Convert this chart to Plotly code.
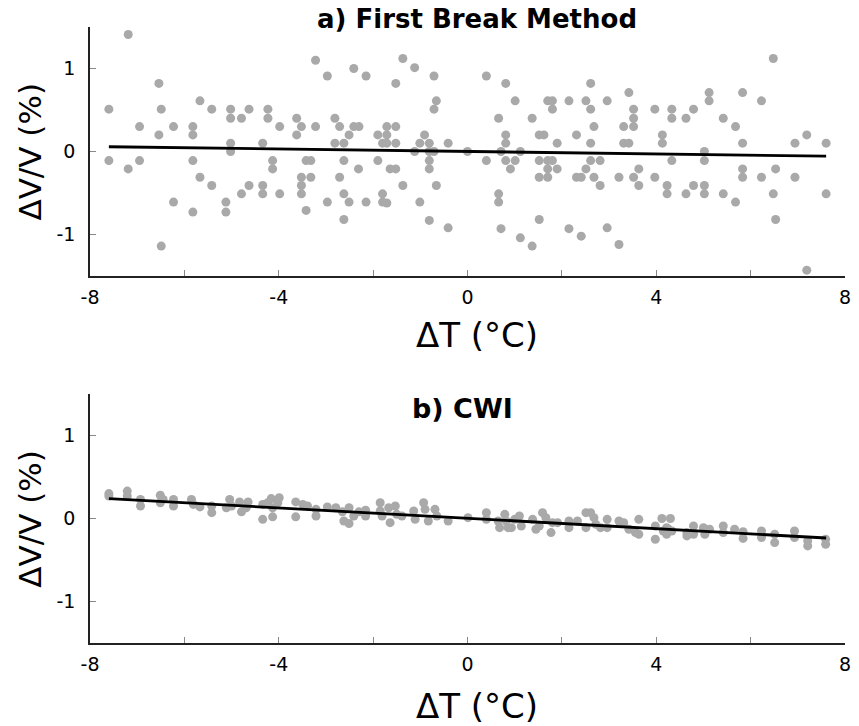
import plotly.graph_objects as go
from plotly.subplots import make_subplots

# ---------- panel a) First Break Method ----------
fb_dT = [-7.60, -7.60, -7.19, -7.19, -6.95, -6.95, -6.54, -6.49, -6.54, -6.49,
         -6.23, -6.23, -5.82, -5.82, -5.82, -5.82, -5.67, -5.67, -5.42, -5.42,
         -5.12, -5.12, -5.02, -5.02, -5.02, -5.02, -4.79, -4.79, -4.63, -4.63,
         -4.34, -4.34, -4.34, -4.23, -4.23, -4.13, -4.13, -3.98, -3.98, -3.62,
         -3.62, -3.52, -3.52, -3.52, -3.52, -3.42, -3.42, -3.32, -3.32, -3.22,
         -3.22, -2.97, -2.97, -2.81, -2.81, -2.71, -2.71, -2.62, -2.62, -2.62,
         -2.62, -2.51, -2.51, -2.41, -2.30, -2.41, -2.15, -2.31, -2.15, -1.90,
         -1.90, -1.80, -1.80, -1.80, -1.71, -1.71, -1.71, -1.71, -1.64, -1.52,
         -1.52, -1.52, -1.52, -1.37, -1.37, -1.12, -1.12, -1.01, -1.01, -0.91,
         -0.81, -0.81, -0.81, -0.81, -0.81, -0.71, -0.71, -0.66, -0.71, -0.66,
         -0.41, -0.41, 0.00, 0.40, 0.40, 0.66, 0.66, 0.66, 0.71, 0.71,
         0.81, 0.81, 0.81, 0.81, 0.91, 1.01, 1.01, 1.12, 1.12, 1.37,
         1.37, 1.52, 1.62, 1.52, 1.52, 1.52, 1.70, 1.80, 1.80, 1.70,
         1.80, 1.70, 1.70, 1.90, 1.90, 2.15, 2.15, 2.31, 2.31, 2.41,
         2.41, 2.51, 2.51, 2.61, 2.61, 2.61, 2.61, 2.68, 2.68, 2.81,
         2.81, 2.96, 2.96, 3.21, 3.21, 3.31, 3.31, 3.42, 3.42, 3.52,
         3.52, 3.52, 3.52, 3.63, 3.63, 3.97, 3.97, 4.13, 4.13, 4.23,
         4.23, 4.33, 4.33, 4.33, 4.63, 4.63, 4.79, 4.79, 5.02, 5.02,
         5.02, 5.02, 5.12, 5.12, 5.42, 5.42, 5.68, 5.68, 5.83, 5.83,
         5.83, 5.83, 6.23, 6.23, 6.48, 6.48, 6.53, 6.53, 6.94, 6.94,
         7.19, 7.19, 7.60, 7.60]
fb_dVV = [0.51, -0.11, 1.41, -0.21, 0.30, -0.11, 0.82, 0.51, 0.20, -1.14,
          0.30, -0.61, 0.30, 0.20, -0.11, -0.73, 0.61, -0.31, 0.51, -0.41,
          -0.61, -0.73, 0.51, 0.40, 0.10, 0.00, 0.40, -0.51, 0.51, -0.41,
          0.10, -0.41, -0.51, 0.51, 0.40, -0.11, -0.21, 0.30, -0.51, 0.40,
          0.20, 0.30, -0.31, -0.41, -0.51, -0.11, -0.71, -0.11, -0.31, 1.10,
          0.30, 0.91, -0.61, 0.40, 0.10, 0.30, -0.31, 0.10, -0.11, -0.51,
          -0.82, 0.20, -0.61, 0.30, 0.30, 1.00, 0.91, -0.21, -0.61, 0.20,
          -0.11, 0.10, -0.51, -0.61, 0.30, 0.20, 0.10, -0.62, -0.21, -0.21,
          0.82, 0.30, 0.10, 1.12, -0.41, 1.01, 0.00, 0.10, -0.61, 0.20,
          0.10, 0.00, -0.11, -0.21, -0.83, 0.91, 0.51, 0.61, 0.00, -0.41,
          0.10, -0.92, 0.00, 0.91, -0.11, 0.40, -0.51, -0.61, -0.93, 0.00,
          0.82, 0.20, 0.10, -0.11, -0.21, 0.61, -0.11, 0.00, -1.04, 0.40,
          -1.14, 0.20, 0.20, -0.11, -0.31, -0.82, 0.61, 0.61, 0.51, -0.11,
          -0.11, -0.21, -0.31, 0.10, -0.21, 0.61, -0.93, 0.20, -0.31, -0.31,
          -1.02, 0.61, -0.21, 0.82, 0.51, 0.10, -0.11, 0.30, -0.31, -0.11,
          -0.41, 0.61, -0.92, -0.31, -1.12, 0.30, 0.10, 0.10, 0.71, 0.51,
          0.40, 0.30, -0.31, -0.21, -0.41, 0.51, -0.31, 0.20, 0.10, -0.41,
          -0.51, 0.51, 0.40, -0.11, 0.40, -0.51, 0.51, -0.41, 0.00, -0.11,
          -0.41, -0.51, 0.71, 0.61, 0.40, -0.51, 0.30, -0.61, 0.71, 0.10,
          -0.21, -0.31, 0.61, -0.31, 1.12, -0.51, -0.21, -0.82, 0.10, -0.31,
          0.20, -1.43, 0.10, -0.51]
fb_fit_dT = [-7.6, 7.6]
fb_fit_dVV = [0.057, -0.056]

# ---------- panel b) CWI ----------
cwi_dT = [-7.60, -7.60, -7.21, -7.21, -6.93, -6.93, -6.51, -6.51, -6.45, -6.23,
          -6.23, -5.85, -5.81, -5.67, -5.42, -5.42, -5.11, -5.04, -5.00, -4.83,
          -4.79, -4.65, -4.69, -4.34, -4.34, -4.23, -4.16, -4.13, -4.13, -3.99,
          -4.02, -3.64, -3.64, -3.49, -3.39, -3.21, -3.21, -2.97, -2.79, -2.65,
          -2.62, -2.51, -2.51, -2.41, -2.30, -2.16, -2.16, -1.85, -1.85, -1.81,
          -1.67, -1.64, -1.53, -1.50, -1.39, -1.14, -1.11, -0.93, -0.90, -0.83,
          -0.69, -0.65, -0.41, 0.01, 0.40, 0.40, 0.65, 0.68, 0.79, 0.82,
          0.86, 0.93, 1.00, 1.10, 1.14, 1.38, 1.45, 1.52, 1.59, 1.66,
          1.77, 1.80, 1.91, 2.15, 2.15, 2.33, 2.51, 2.51, 2.61, 2.68,
          2.72, 2.82, 2.96, 2.96, 3.21, 3.31, 3.42, 3.56, 3.63, 3.63,
          3.98, 3.98, 4.12, 4.15, 4.30, 4.26, 4.22, 4.22, 4.33, 4.65,
          4.65, 4.79, 4.79, 5.00, 5.03, 5.13, 5.42, 5.42, 5.66, 5.84,
          5.84, 6.23, 6.23, 6.51, 6.51, 6.93, 6.93, 7.21, 7.21, 7.59,
          7.59]
cwi_dVV = [0.30, 0.27, 0.33, 0.27, 0.23, 0.15, 0.28, 0.19, 0.23, 0.23,
           0.15, 0.23, 0.17, 0.14, 0.15, 0.07, 0.13, 0.23, 0.15, 0.20,
           0.08, 0.20, 0.13, 0.17, -0.01, 0.19, 0.24, 0.02, 0.13, 0.25,
           0.19, 0.20, 0.02, 0.17, 0.15, 0.11, 0.03, 0.14, 0.13, 0.08,
           -0.03, 0.13, -0.06, 0.03, 0.08, 0.10, 0.03, 0.19, 0.09, 0.03,
           0.13, -0.05, 0.15, 0.05, 0.03, 0.09, -0.01, 0.19, 0.11, -0.03,
           0.11, 0.03, -0.03, 0.01, 0.07, -0.01, -0.03, -0.11, 0.05, -0.03,
           -0.11, -0.11, -0.01, 0.03, -0.09, -0.01, -0.13, -0.09, 0.07, 0.01,
           -0.17, -0.05, -0.05, -0.03, -0.11, -0.03, 0.07, -0.11, 0.07, 0.01,
           -0.07, -0.11, -0.01, -0.11, -0.03, -0.05, -0.13, -0.17, -0.01, -0.19,
           -0.09, -0.25, 0.00, -0.15, 0.00, -0.13, -0.11, -0.19, -0.15, -0.17,
           -0.21, -0.09, -0.19, -0.11, -0.19, -0.13, -0.09, -0.17, -0.13, -0.16,
           -0.24, -0.15, -0.23, -0.19, -0.29, -0.15, -0.23, -0.27, -0.33, -0.25,
           -0.31]
cwi_fit_dT = [-7.6, 7.6]
cwi_fit_dVV = [0.24, -0.235]

panel_titles = ["a) First Break Method", "b) CWI"]
x_tickvals = [-8, -6, -4, -2, 0, 2, 4, 6, 8]
x_ticktext = ["-8", "", "-4", "", "0", "", "4", "", "8"]
y_tickvals = [-1, 0, 1]
y_ticktext = ["-1", "0", "1"]
x_label = "ΔT (°C)"
y_label = "ΔV/V (%)"

FONT = "DejaVu Sans"
DOT = "#a9a9a9"

fig = make_subplots(rows=2, cols=1, vertical_spacing=0.1916)

for row, (xs, ys, fx, fy) in enumerate(
        [(fb_dT, fb_dVV, fb_fit_dT, fb_fit_dVV),
         (cwi_dT, cwi_dVV, cwi_fit_dT, cwi_fit_dVV)], start=1):
    fig.add_trace(go.Scatter(x=xs, y=ys, mode="markers",
                             marker=dict(size=9, color=DOT, line=dict(width=0)),
                             showlegend=False), row=row, col=1)
    fig.add_trace(go.Scatter(x=fx, y=fy, mode="lines",
                             line=dict(color="black", width=2.8),
                             showlegend=False), row=row, col=1)
    fig.update_xaxes(range=[-8, 8], tickvals=x_tickvals, ticktext=x_ticktext,
                     ticks="inside", ticklen=6, tickcolor="#888888", tickwidth=1,
                     showline=True, linecolor="#222222", linewidth=1.5,
                     showgrid=False, zeroline=False, ticklabelstandoff=3,
                     tickfont=dict(family=FONT, size=19, color="black"),
                     row=row, col=1)
    fig.update_yaxes(range=[-1.5, 1.5], tickvals=y_tickvals, ticktext=y_ticktext,
                     ticks="inside", ticklen=6, tickcolor="#888888", tickwidth=1,
                     showline=True, linecolor="#222222", linewidth=1.5,
                     showgrid=False, zeroline=False, ticklabelstandoff=9,
                     tickfont=dict(family=FONT, size=19, color="black"),
                     row=row, col=1)

# the page body has an 8px margin, so the figure is 8px smaller than the window
fig.update_layout(
    width=851, height=718,
    margin=dict(l=82, r=8, t=19, b=83),
    plot_bgcolor="white", paper_bgcolor="white",
    font=dict(family=FONT, color="black"),
)
fig.update_yaxes(domain=[0.5958, 1.0], row=1, col=1)
fig.update_yaxes(domain=[0.0, 0.4042], row=2, col=1)

ann = []
ann.append(dict(text="<b>" + panel_titles[0] + "</b>", x=0.5125, y=1.0130,
                xref="paper", yref="paper", showarrow=False,
                xanchor="center", yanchor="middle",
                font=dict(family=FONT, size=26, color="black")))
ann.append(dict(text="<b>" + panel_titles[1] + "</b>", x=0.494, y=0.3799,
                xref="paper", yref="paper", showarrow=False,
                xanchor="center", yanchor="middle",
                font=dict(family=FONT, size=27, color="black")))
for yc in [0.5, -0.1023]:
    ann.append(dict(text=x_label, x=0.5125, y=yc, xref="paper", yref="paper",
                    xanchor="center", yanchor="middle", showarrow=False,
                    font=dict(family=FONT, size=34, color="black")))
for yc in [0.797, 0.201]:
    ann.append(dict(text=y_label, x=-0.0788, y=yc, xref="paper", yref="paper",
                    xanchor="center", yanchor="middle",
                    textangle=-90, showarrow=False,
                    font=dict(family=FONT, size=31, color="black")))
fig.update_layout(annotations=ann)

fig.write_html("out.html")
